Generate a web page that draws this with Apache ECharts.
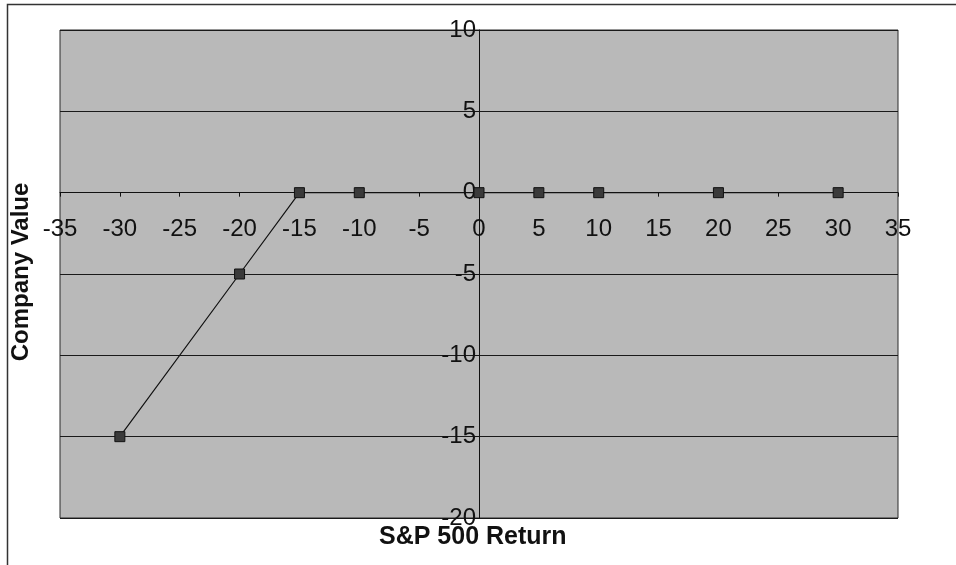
<!DOCTYPE html>
<html>
<head>
<meta charset="utf-8">
<script src="https://cdn.jsdelivr.net/npm/echarts@6/dist/echarts.min.js"></script>
<style>
  html, body { margin: 0; padding: 0; background: #ffffff; }
  #chart { width: 956px; height: 565px; }
</style>
</head>
<body>
<div id="chart"></div>
<script>
// S&P 500 return (x) against company value (y)
const sp500Return = [-30, -20, -15, -10, 0, 5, 10, 20, 30];
const companyValue = [-15, -5, 0, 0, 0, 0, 0, 0, 0];

const xTitle = 'S&P 500 Return';
const yTitle = 'Company Value';

const points = sp500Return.map((x, i) => [x, companyValue[i]]);

const X_MIN = -35, X_MAX = 35, Y_MIN = -20, Y_MAX = 10;
const GRID = { left: 60, right: 58, top: 30, bottom: 47 };
const W = 956, H = 565;
const plotW = W - GRID.left - GRID.right;
const plotH = H - GRID.top - GRID.bottom;
// distance from the grid's bottom/left edges to the zero lines, so the axes cross at (0, 0)
const xAxisOffset = -plotH * (0 - Y_MIN) / (Y_MAX - Y_MIN);
const yAxisOffset = -plotW * (0 - X_MIN) / (X_MAX - X_MIN);

const chart = echarts.init(document.getElementById('chart'), null, { renderer: 'canvas' });

const font = '"Liberation Sans", Arial, sans-serif';

chart.setOption({
  animation: false,
  backgroundColor: '#ffffff',
  grid: Object.assign({
    show: true,
    containLabel: false,
    outerBoundsMode: 'none',
    backgroundColor: '#b9b9b9',
    borderColor: '#2a2a2a',
    borderWidth: 1
  }, GRID),
  xAxis: {
    type: 'value',
    position: 'bottom',
    offset: xAxisOffset,
    min: X_MIN, max: X_MAX, interval: 5,
    axisLine: { onZero: false, lineStyle: { color: '#111', width: 1 } },
    axisTick: { show: true, length: 4, lineStyle: { color: '#111' } },
    axisLabel: {
      margin: 25,
      fontFamily: font, fontSize: 24, color: '#111',
      showMinLabel: true, showMaxLabel: true
    },
    splitLine: { show: false }
  },
  yAxis: {
    type: 'value',
    position: 'left',
    offset: yAxisOffset,
    min: Y_MIN, max: Y_MAX, interval: 5,
    axisLine: { onZero: false, lineStyle: { color: '#111', width: 1 } },
    axisTick: { show: true, length: 4, lineStyle: { color: '#111' } },
    axisLabel: {
      margin: 3,
      fontFamily: font, fontSize: 24, color: '#111',
      showMinLabel: true, showMaxLabel: true
    },
    splitLine: { show: true, lineStyle: { color: '#1a1a1a', width: 1 } }
  },
  series: [{
    type: 'line',
    data: points,
    symbol: 'rect',
    symbolSize: 10,
    showSymbol: true,
    lineStyle: { color: '#111', width: 1.2 },
    itemStyle: { color: '#3a3a3a', borderColor: '#111', borderWidth: 1 },
    z: 5
  }],
  graphic: [
    {
      type: 'rect',
      shape: { x: 7.5, y: 4.5, width: 1000, height: 700 },
      style: { fill: 'none', stroke: '#333', lineWidth: 1.5 },
      silent: true, z: 0
    },
    {
      type: 'text',
      left: 379, top: 525,
      style: { text: xTitle, font: 'bold 25px ' + font, fill: '#111' }
    },
    {
      type: 'text',
      x: 21, y: 272,
      rotation: Math.PI / 2,
      style: {
        text: yTitle, font: 'bold 24px ' + font, fill: '#111',
        align: 'center', verticalAlign: 'middle'
      }
    }
  ]
});
</script>
</body>
</html>
